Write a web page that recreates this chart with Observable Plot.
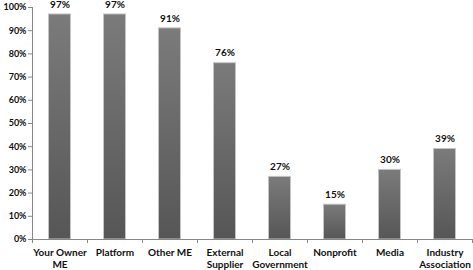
<!DOCTYPE html>
<html><head><meta charset="utf-8">
<script src="https://cdn.jsdelivr.net/npm/d3@7"></script>
<script src="https://cdn.jsdelivr.net/npm/@observablehq/plot@0.6"></script>
<style>body{margin:0;background:#fff;font-family:Lato,sans-serif}</style>
</head><body><div id="chart"></div>
<script>
const categories = ["Your Owner\nME","Platform","Other ME","External\nSupplier","Local\nGovernment","Nonprofit","Media","Industry\nAssociation"];
const values = [97,97,91,76,27,15,30,39];
const yTicks = [0,10,20,30,40,50,60,70,80,90,100];

const data = categories.map((c,i)=>({c, i, v: values[i]}));
const bounds = d3.range(categories.length + 1);

const plot = Plot.plot({
  width: 473, height: 270,
  marginLeft: 32, marginRight: 1, marginTop: 7, marginBottom: 31,
  style: {fontFamily: "Lato, sans-serif", fontWeight: "bold", fontSize: "10px", color: "#111", overflow: "visible"},
  x: {type: "linear", domain: [0, categories.length], axis: null, label: null},
  y: {type: "linear", domain: [0, 100], axis: null, label: null},
  marks: [
    () => {
      const svg = d3.create("svg:defs");
      const g = svg.append("linearGradient").attr("id","barGrad").attr("x1",0).attr("x2",0).attr("y1",0).attr("y2",1);
      g.append("stop").attr("offset","0%").attr("stop-color","#7b7b7b");
      g.append("stop").attr("offset","100%").attr("stop-color","#565656");
      return svg.node();
    },
    Plot.rectY(data, {x1: d => d.i + 0.3, x2: d => d.i + 0.7, y1: 0, y2: "v", fill: "url(#barGrad)", stroke: "#c4c4c4", strokeWidth: 1}),
    Plot.text(data, {x: d => d.i + 0.5, y: "v", text: d => d.v + "%", dy: -10, fill: "#111"}),
    Plot.axisY({ticks: yTicks, tickFormat: d => d + "%", tickSize: 4, tickPadding: 2, stroke: "#888", fill: "#111", fontWeight: "bold", fontSize: 9, label: null}),
    Plot.axisX({ticks: bounds, tickFormat: () => "", tickSize: 4, stroke: "#888", label: null}),
    Plot.ruleX([0], {stroke: "#888"}),
    Plot.ruleY([0], {stroke: "#888"}),
    Plot.text(data, {x: d => d.i + 0.5, y: 0, text: "c", dy: 8, lineAnchor: "top", lineHeight: 1.2, fill: "#111"})
  ]
});
document.getElementById("chart").appendChild(plot);
</script></body></html>
